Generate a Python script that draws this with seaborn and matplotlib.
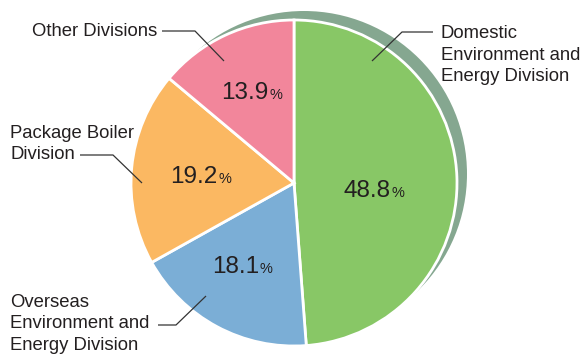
import matplotlib
matplotlib.use("Agg")
import matplotlib.pyplot as plt
import seaborn as sns
from matplotlib.patches import Circle

# ---- data ----
categories = ["Domestic\nEnvironment and\nEnergy Division",
              "Overseas\nEnvironment and\nEnergy Division",
              "Package Boiler\nDivision",
              "Other Divisions"]
values = [48.8, 18.1, 19.2, 13.9]
value_labels = ["48.8", "18.1", "19.2", "13.9"]
colors = ["#88C766", "#7BAED6", "#FBB862", "#F2869B"]

sns.set_theme(style="white")
plt.rcParams['font.family'] = ['Liberation Sans', 'DejaVu Sans']

W, H = 585, 354
fig = plt.figure(figsize=(W / 100, H / 100), dpi=100)
ax = fig.add_axes([0, 0, 1, 1])

def Y(y):
    return H - y

cx, cy, R = 294, 183, 163
txt_col = "#231F20"

# shadow disc, offset up-right behind the pie
ax.add_patch(Circle((cx + 10, Y(cy) + 9), R, color="#85A790", zorder=0, lw=0))

wedges, _ = ax.pie(values, colors=colors, startangle=90, counterclock=False,
                   center=(cx, Y(cy)), radius=R,
                   wedgeprops=dict(edgecolor="white", linewidth=2))
for w in wedges:
    w.set_zorder(2)

ax.set_xlim(0, W)
ax.set_ylim(0, H)
ax.set_aspect("equal")
ax.axis("off")

# percentage labels: (x of split, baseline y)
pct_pos = [(391, 197), (259, 273), (217.5, 183), (268.5, 99)]
for (x, y), lab in zip(pct_pos, value_labels):
    ax.text(x, Y(y), lab, fontsize=17.5, ha="right", va="baseline", color=txt_col, zorder=5)
    ax.text(x + 1, Y(y), "%", fontsize=10.5, ha="left", va="baseline", color=txt_col, zorder=5)

# category labels with leader lines
lab_specs = [
    (441, 55, "left", [(433, 32), (402, 32), (372, 61)]),
    (10, 324, "left", [(158, 325), (176, 325), (206, 296)]),
    (10, 144, "left", [(80, 155), (113, 155), (142, 183)]),
    (157, 31, "right", [(162, 31), (195, 31), (224, 61)]),
]
for (x, y, ha, pts), lab in zip(lab_specs, categories):
    ax.text(x, Y(y), lab, fontsize=13.3, ha=ha, va="center", color=txt_col,
            linespacing=1.32, zorder=5)
    xs = [p[0] for p in pts]
    ys = [Y(p[1]) for p in pts]
    ax.plot(xs, ys, color="#333333", lw=0.9, zorder=6, solid_capstyle="butt")

fig.savefig("out.png", dpi=100)
